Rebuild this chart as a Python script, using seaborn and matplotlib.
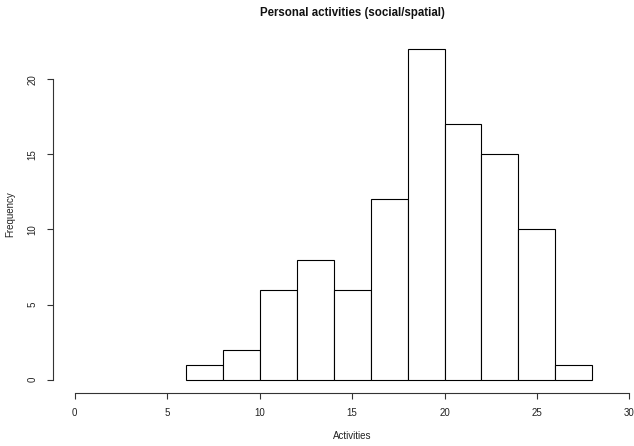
import matplotlib
matplotlib.use("Agg")
import matplotlib.pyplot as plt
import seaborn as sns
import numpy as np

# Data
bin_edges = [6, 8, 10, 12, 14, 16, 18, 20, 22, 24, 26, 28]
counts = [1, 2, 6, 8, 6, 12, 22, 17, 15, 10, 1]
x_ticks = [0, 5, 10, 15, 20, 25, 30]
y_ticks = [0, 5, 10, 15, 20]
title = "Personal activities (social/spatial)"
x_label = "Activities"
y_label = "Frequency"

sns.set_style("white")
plt.rcParams['font.family'] = ['Liberation Sans', 'DejaVu Sans']

W, H = 634, 446
fig = plt.figure(figsize=(W / 100, H / 100), dpi=100)
left, right, top, bottom = 52.5, 651.6, 36.0, 392.9
ax = fig.add_axes([left / W, 1 - bottom / H, (right - left) / W, (bottom - top) / H])

centers = [(bin_edges[i] + bin_edges[i + 1]) / 2 for i in range(len(counts))]
sns.histplot(x=centers, weights=counts, bins=bin_edges, ax=ax,
             color="white", edgecolor="black", linewidth=0.8, alpha=1.0)

ax.set_xlim(-1.2, 31.2)
ax.set_ylim(-0.88, 22.88)
ax.set_xticks(x_ticks)
ax.set_yticks(y_ticks)
ax.set_xticklabels([str(v) for v in x_ticks])
ax.set_yticklabels([str(v) for v in y_ticks], rotation=90, va="center")

for s in ["top", "right"]:
    ax.spines[s].set_visible(False)
ax.spines["left"].set_bounds(0, 20)
ax.spines["bottom"].set_bounds(0, 30)
for s in ["left", "bottom"]:
    ax.spines[s].set_linewidth(0.8)
    ax.spines[s].set_color("#333333")

ax.tick_params(axis="both", direction="out", length=4.3, width=0.8, color="#333333",
               labelsize=7, pad=6.3, labelcolor="#222222", bottom=True, left=True)

ax.set_xlabel(x_label, fontsize=7, color="#222222")
ax.set_ylabel(y_label, fontsize=7, color="#222222")
ax.xaxis.set_label_coords((352 - left) / (right - left), (bottom - 436) / (bottom - top))
ax.xaxis.label.set_va("center")
ax.yaxis.set_label_coords((10 - left) / (right - left), 0.5)
ax.yaxis.label.set_va("center")

fig.text(352 / W, 1 - 13 / H, title, ha="center", va="center",
         fontsize=8.3, fontweight="bold", color="#111111")

fig.savefig("out.png", dpi=100)
